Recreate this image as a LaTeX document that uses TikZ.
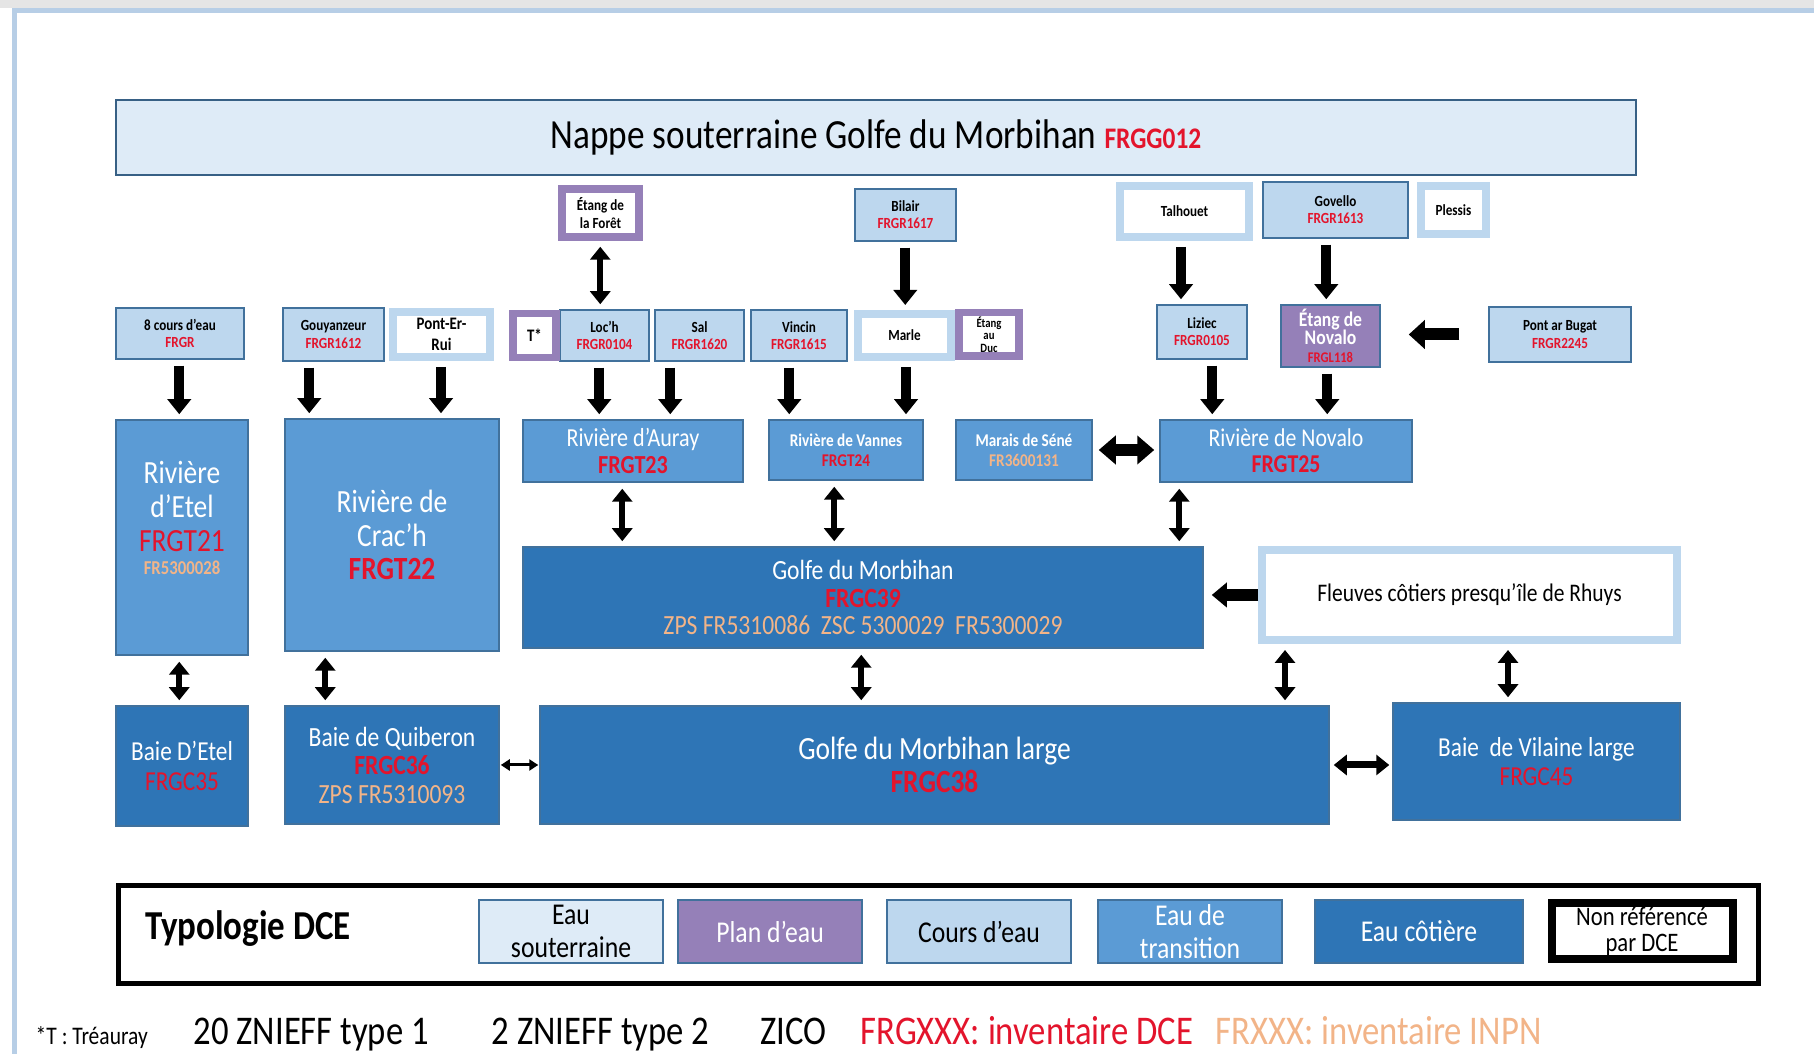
\documentclass[tikz,border=0pt]{standalone}
\usepackage{fontspec}
\setmainfont{Carlito}[FakeStretch=0.85]
\usetikzlibrary{arrows.meta}
\definecolor{gwfill}{HTML}{DEEBF7}
\definecolor{rvfill}{HTML}{BDD7EE}
\definecolor{trfill}{HTML}{5B9BD5}
\definecolor{ctfill}{HTML}{2E75B6}
\definecolor{pefill}{HTML}{9580B8}
\definecolor{edgeblue}{HTML}{41719C}
\definecolor{dcered}{HTML}{E3142C}
\definecolor{inpntan}{HTML}{F2B488}
\definecolor{frameline}{HTML}{B7CEE6}
\newcommand{\fsz}[2]{\fontsize{#1}{#2}\selectfont}
\newcommand{\dce}[1]{\textcolor{dcered}{#1}}
\newcommand{\inpn}[1]{\textcolor{inpntan}{#1}}

\begin{document}
\begin{tikzpicture}[x=0.1mm, y=-0.1mm,
    boxbase/.style={draw=edgeblue, line width=0.15mm, inner sep=0pt, align=center},
    gwbox/.style={boxbase, fill=gwfill},
    rvbox/.style={boxbase, fill=rvfill, font=\fsz{4.4}{4.9}\bfseries},
    trbox/.style={boxbase, fill=trfill, text=white},
    ctbox/.style={boxbase, fill=ctfill, text=white},
    pebox/.style={boxbase, fill=pefill, text=white},
    nrbox/.style={draw=rvfill, line width=0.8mm, fill=white, inner sep=0pt, align=center, font=\fsz{4.4}{4.9}\bfseries},
    nrpebox/.style={nrbox, draw=pefill, line width=0.75mm},
    legbox/.style={boxbase, minimum height=6.3mm, font=\fsz{8.6}{9.3}},
    flowarr/.style={line width=1mm, -{Triangle[width=2.3mm,length=1.5mm]}, shorten <=0.6mm, shorten >=0.5mm},
    linkarr/.style={line width=0.6mm, {Triangle[width=2mm,length=1.3mm]}-{Triangle[width=2mm,length=1.3mm]}, shorten <=0.6mm, shorten >=0.5mm}
  ]
  \useasboundingbox (0,0) rectangle (1814,1054);
  \fill[black!10] (0,0) rectangle (1814,8);
  \draw[frameline, line width=0.5mm] (14,1054) -- (14,11) -- (1814,11);

  \node[gwbox, draw=edgeblue!85!black, line width=0.25mm, minimum width=152mm, minimum height=7.5mm, font=\fsz{11.8}{14}] (nappe) at (876,137.5) {Nappe souterraine Golfe du Morbihan {\fsz{8.5}{10}\bfseries\dce{FRGG012}}};

  \node[nrpebox, minimum width=7.7mm, minimum height=4.8mm] (foret) at (600.5,213) {Étang de\\la Forêt};
  \node[rvbox, minimum width=10.1mm, minimum height=5.2mm] (bilair) at (905.5,215) {Bilair\\\dce{FRGR1617}};
  \node[nrbox, minimum width=12.9mm, minimum height=5.1mm] (talhouet) at (1184.5,211.5) {Talhouet};
  \node[rvbox, minimum width=14.5mm, minimum height=5.6mm] (govello) at (1335.5,210) {Govello\\\dce{FRGR1613}};
  \node[nrbox, minimum width=6.5mm, minimum height=4.8mm] (plessis) at (1453.5,210) {Plessis};

  \node[rvbox, minimum width=12.8mm, minimum height=5.1mm] (huit) at (180,333.5) {8 cours d’eau\\\dce{FRGR}};
  \node[rvbox, minimum width=10.1mm, minimum height=5.3mm] (gouyanzeur) at (333.5,334.5) {Gouyanzeur\\\dce{FRGR1612}};
  \node[nrbox, minimum width=9.7mm, minimum height=4.5mm, font=\fsz{5}{5.8}\bfseries] (pont) at (441.5,334.5) {Pont-Er-\\Rui};
  \node[rvbox, minimum width=8.9mm, minimum height=5.1mm] (loch) at (604.5,335.5) {Loc’h\\\dce{FRGR0104}};
  \node[nrpebox, minimum width=4.3mm, minimum height=4.4mm, font=\fsz{5}{6}\bfseries] (treauray) at (534.5,335.5) {T*};
  \node[rvbox, minimum width=8.9mm, minimum height=5.1mm] (sal) at (699.5,335.5) {Sal\\\dce{FRGR1620}};
  \node[rvbox, minimum width=9.6mm, minimum height=5.1mm] (vincin) at (799,335.5) {Vincin\\\dce{FRGR1615}};
  \node[nrbox, minimum width=9.3mm, minimum height=4.3mm] (marle) at (904.5,335.5) {Marle};
  \node[nrpebox, minimum width=6mm, minimum height=4.35mm, font=\fsz{3.6}{3.5}\bfseries] (duc) at (989,334.5) {Étang\\au\\Duc};
  \node[rvbox, minimum width=9mm, minimum height=5.4mm] (liziec) at (1202,332) {Liziec\\\dce{FRGR0105}};
  \node[pebox, minimum width=9.9mm, minimum height=6.2mm, font=\fsz{5.9}{5.2}\bfseries] (novaloet) at (1330.5,336) {Étang de\\Novalo\\{\fsz{4.2}{4.5}\dce{FRGL118}}};
  \node[rvbox, minimum width=14.2mm, minimum height=5.5mm] (bugat) at (1560,334.5) {Pont ar Bugat\\\dce{FRGR2245}};

  \node[trbox, minimum width=13.2mm, minimum height=23.5mm] (etel) at (182,537.5) {};
  \node[text=white, align=center, inner sep=0pt, font=\fsz{9.2}{9.6}] (eteltxt) at (182,518) {Rivière\\d’Etel\\\dce{FRGT21}\\[-1.1mm]{\fsz{5.6}{6}\bfseries\inpn{FR5300028}}};
  \node[trbox, minimum width=21.4mm, minimum height=23.2mm, font=\fsz{9.2}{9.6}] (crach) at (392,535) {Rivière de\\Crac’h\\\dce{\bfseries FRGT22}};
  \node[trbox, minimum width=22mm, minimum height=6.2mm, font=\fsz{7.4}{7.7}] (auray) at (633,451) {Rivière d’Auray\\\dce{\bfseries FRGT23}};
  \node[trbox, minimum width=15.4mm, minimum height=6mm, font=\fsz{5.1}{5.6}\bfseries] (vannes) at (846,450) {Rivière de Vannes\\\dce{FRGT24}};
  \node[trbox, minimum width=13.6mm, minimum height=6mm, font=\fsz{5.1}{5.6}\bfseries] (sene) at (1024,450) {Marais de Séné\\\inpn{FR3600131}};
  \node[trbox, minimum width=25.2mm, minimum height=6.2mm, font=\fsz{7.3}{7.4}] (novalo) at (1286,451) {Rivière de Novalo\\\dce{\bfseries FRGT25}};

  \node[ctbox, minimum width=68mm, minimum height=10.1mm, font=\fsz{7.9}{7.9}] (golfe) at (863,597.5) {Golfe du Morbihan\\\dce{\bfseries FRGC39}\\\inpn{ZPS FR5310086~~ZSC 5300029~~FR5300029}};
  \node[nrbox, minimum width=41.5mm, minimum height=9mm, font=\fsz{7.2}{8}] (rhuys) at (1469.5,595) {Fleuves côtiers presqu’île de Rhuys};

  \node[ctbox, minimum width=13.2mm, minimum height=12mm, font=\fsz{7.8}{8.3}] (betel) at (182,766) {Baie D’Etel\\\dce{FRGC35}};
  \node[ctbox, minimum width=21.4mm, minimum height=11.8mm, font=\fsz{7.9}{8.1}] (quiberon) at (392,765) {Baie de Quiberon\\\dce{\bfseries FRGC36}\\\inpn{ZPS FR5310093}};
  \node[ctbox, minimum width=78.9mm, minimum height=11.8mm, font=\fsz{9.2}{9.2}] (large) at (934.5,765) {Golfe du Morbihan large\\\dce{\bfseries FRGC38}};
  \node[ctbox, minimum width=28.7mm, minimum height=11.7mm, font=\fsz{7.8}{8.3}] (vilaine) at (1536.5,761.5) {Baie~~de Vilaine large\\\dce{FRGC45}};

  \foreach \src/\dst/\dx in {huit/etel/6.4, gouyanzeur/crach/2.7, pont/crach/5.2,
      loch/auray/4.0, sal/auray/1.6, vincin/vannes/3.9, marle/vannes/5.2,
      liziec/novalo/5.6, novaloet/novalo/4.7, bilair/marle/5.1,
      talhouet/liziec/6.5, govello/novaloet/6.4} {
    \draw[flowarr] ([xshift=\dx mm]\src.south west) -- ([xshift=\dx mm]\src.south west |- \dst.north);
  }
  \foreach \src/\dst/\dx in {foret/loch/4.2, auray/golfe/10, vannes/golfe/6.6,
      novalo/golfe/2, etel/betel/6.4, crach/quiberon/4.1, golfe/large/33.9,
      rhuys/large/2.7, rhuys/vilaine/25} {
    \draw[linkarr] ([xshift=\dx mm]\src.south west) -- ([xshift=\dx mm]\src.south west |- \dst.north);
  }
  \draw[flowarr, line width=1.2mm, -{Triangle[width=2.8mm,length=1.6mm]}, shorten <=2.9mm, shorten >=2.8mm] (bugat.west) -- (bugat.west -| novaloet.east);
  \draw[flowarr, line width=1.2mm, -{Triangle[width=2.4mm,length=1.5mm]}, shorten <=0mm, shorten >=0.8mm] (rhuys.west) -- (rhuys.west -| golfe.east);
  \draw[linkarr, line width=1.2mm, {Triangle[width=2.8mm,length=1.7mm]}-{Triangle[width=2.8mm,length=1.7mm]}] (sene.east) -- (sene.east -| novalo.west);
  \draw[linkarr, line width=0.7mm, shorten <=0.4mm, shorten >=0.3mm] (large.east) -- (large.east -| vilaine.west);
  \draw[linkarr, line width=0.3mm, {Triangle[width=1.1mm,length=0.9mm]}-{Triangle[width=1.1mm,length=0.9mm]}, shorten <=0.1mm, shorten >=0.1mm] (quiberon.east) -- (quiberon.east -| large.west);

  \node[draw=black, line width=0.5mm, minimum width=164mm, minimum height=9.8mm, inner sep=0pt] (legend) at (938.5,934.5) {};
  \node[font=\fsz{11.7}{14}\bfseries, inner sep=0pt] (typo) at (248,929) {Typologie DCE};
  \foreach \i/\cx/\w/\fc/\tc/\txt in {1/571/18.4/gwfill/black/{Eau\\souterraine},
      2/770/18.4/pefill/white/{Plan d’eau}, 3/979/18.4/rvfill/black/{Cours d’eau},
      4/1190/18.4/trfill/white/{Eau de\\transition}, 5/1419/20.8/ctfill/white/{Eau côtière}} {
    \node[legbox, fill=\fc, text=\tc, minimum width=\w mm] (leg\i) at (\cx,931.5) {\txt};
  }
  \node[legbox, draw=black, line width=0.8mm, fill=white, minimum width=18.1mm, minimum height=5.6mm, font=\fsz{7.6}{7.4}] (leg6) at (1642,931.5) {Non référencé\\par DCE};

  \foreach \i/\x/\fs/\col/\txt in {1/35/7.2/black/{*T : Tréauray}, 2/193/11.6/black/{20 ZNIEFF type 1},
      3/491/11.6/black/{2 ZNIEFF type 2}, 4/760/11.6/black/ZICO,
      5/860/11.6/dcered/{FRGXXX: inventaire DCE}, 6/1215/11.6/inpntan/{FRXXX: inventaire INPN}} {
    \node[anchor=base west, inner sep=0pt, text=\col, font=\fsz{\fs}{13}] (foot\i) at (\x,1045) {\txt};
  }
\end{tikzpicture}
\end{document}
